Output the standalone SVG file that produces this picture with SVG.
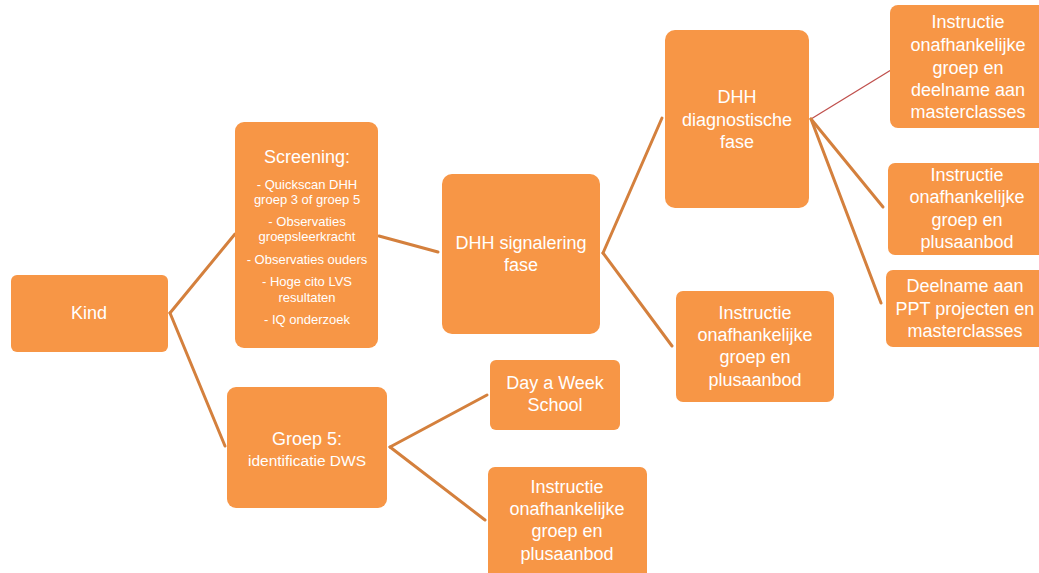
<svg xmlns="http://www.w3.org/2000/svg" width="1039" height="573" viewBox="0 0 1039 573">
<style>
.box{fill:#F79646;}
.t{font-family:"Liberation Sans",Arial,sans-serif;font-size:18px;fill:#FFFFFF;text-anchor:middle;}
.s{font-family:"Liberation Sans",Arial,sans-serif;font-size:13px;fill:#FFFFFF;text-anchor:middle;}
.m{font-family:"Liberation Sans",Arial,sans-serif;font-size:15.5px;fill:#FFFFFF;text-anchor:middle;}
.c{stroke:#D4803D;stroke-width:3;fill:none;stroke-linecap:round;}
.r{stroke:#C0504D;stroke-width:1.3;fill:none;}
</style>
<rect width="1039" height="573" fill="#FFFFFF"/>
<g id="connectors">
<path class="c" d="M170,313 L235,234"/>
<path class="c" d="M170,313 L225,446"/>
<path class="c" d="M379,236 L438,252"/>
<path class="c" d="M603,253 L662,118"/>
<path class="c" d="M603,253 L672,346"/>
<path class="r" d="M811,119 L891,70"/>
<path class="c" d="M811,119 L883,207"/>
<path class="c" d="M811,119 L881,303"/>
<path class="c" d="M390,447 L487,395"/>
<path class="c" d="M390,447 L485,520"/>
</g>
<g id="kind">
<rect class="box" x="11" y="275" width="157" height="77" rx="6"/>
<text class="t" x="89" y="319">Kind</text>
</g>
<g id="screening">
<rect class="box" x="235" y="122" width="143" height="226" rx="9"/>
<text class="t" x="307" y="163">Screening:</text>
<text class="s" x="307" y="189">- Quickscan DHH</text>
<text class="s" x="307" y="204">groep 3 of groep 5</text>
<text class="s" x="307" y="226">- Observaties</text>
<text class="s" x="307" y="241">groepsleerkracht</text>
<text class="s" x="307" y="264">- Observaties ouders</text>
<text class="s" x="307" y="286">- Hoge cito LVS</text>
<text class="s" x="307" y="302">resultaten</text>
<text class="s" x="307" y="324">- IQ onderzoek</text>
</g>
<g id="groep5">
<rect class="box" x="227" y="387" width="160" height="121" rx="9"/>
<text class="t" x="307" y="445">Groep 5:</text>
<text class="m" x="307" y="466">identificatie DWS</text>
</g>
<g id="signalering">
<rect class="box" x="442" y="174" width="158" height="160" rx="10"/>
<text class="t" x="521" y="249">DHH signalering</text>
<text class="t" x="521" y="271">fase</text>
</g>
<g id="daw">
<rect class="box" x="490" y="360" width="130" height="70" rx="6"/>
<text class="t" x="555" y="389">Day a Week</text>
<text class="t" x="555" y="411">School</text>
</g>
<g id="instructie-bottom">
<rect class="box" x="488" y="467" width="159" height="115" rx="7"/>
<text class="t" x="567" y="493">Instructie</text>
<text class="t" x="567" y="515">onafhankelijke</text>
<text class="t" x="567" y="537">groep en</text>
<text class="t" x="567" y="560">plusaanbod</text>
</g>
<g id="diagnostische">
<rect class="box" x="665" y="30" width="144" height="178" rx="10"/>
<text class="t" x="737" y="103">DHH</text>
<text class="t" x="737" y="126">diagnostische</text>
<text class="t" x="737" y="148">fase</text>
</g>
<g id="instructie-mid">
<rect class="box" x="676" y="291" width="158" height="111" rx="7"/>
<text class="t" x="755" y="319">Instructie</text>
<text class="t" x="755" y="341">onafhankelijke</text>
<text class="t" x="755" y="363">groep en</text>
<text class="t" x="755" y="386">plusaanbod</text>
</g>
<g id="instructie-master">
<rect class="box" x="890" y="5" width="160" height="123" rx="8"/>
<text class="t" x="968" y="28">Instructie</text>
<text class="t" x="968" y="51">onafhankelijke</text>
<text class="t" x="968" y="74">groep en</text>
<text class="t" x="968" y="96">deelname aan</text>
<text class="t" x="968" y="118">masterclasses</text>
</g>
<g id="instructie-right">
<rect class="box" x="888" y="163" width="160" height="92" rx="7"/>
<text class="t" x="967" y="181">Instructie</text>
<text class="t" x="967" y="203">onafhankelijke</text>
<text class="t" x="967" y="226">groep en</text>
<text class="t" x="967" y="248">plusaanbod</text>
</g>
<g id="ppt">
<rect class="box" x="886" y="270" width="160" height="77" rx="7"/>
<text class="t" x="965" y="292">Deelname aan</text>
<text class="t" x="965" y="315">PPT projecten en</text>
<text class="t" x="965" y="337">masterclasses</text>
</g>
</svg>
